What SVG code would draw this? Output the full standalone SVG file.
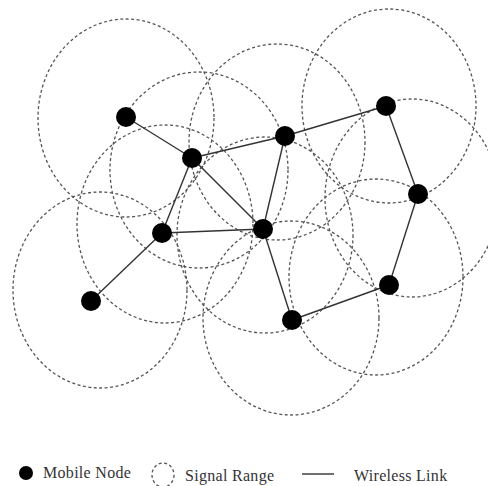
<svg xmlns="http://www.w3.org/2000/svg" width="488" height="486" viewBox="0 0 488 486">
<style>
.rng{fill:none;stroke:#555;stroke-width:1.3;stroke-dasharray:3 2.5}
.lnk{stroke:#333;stroke-width:1.4;fill:none}
.nd{fill:#000}
.lbl{font-family:"Liberation Serif","Times New Roman",serif;font-size:16px;letter-spacing:0.3px;fill:#333}
</style>
<rect width="488" height="486" fill="#fff"/>
<g id="ranges">
<ellipse class="rng" cx="126" cy="118" rx="88" ry="99"/>
<ellipse class="rng" cx="199" cy="170" rx="89" ry="98"/>
<ellipse class="rng" cx="277" cy="142" rx="88" ry="98"/>
<ellipse class="rng" cx="389" cy="106" rx="87" ry="97"/>
<ellipse class="rng" cx="412" cy="198" rx="87" ry="99"/>
<ellipse class="rng" cx="165" cy="224" rx="88" ry="99"/>
<ellipse class="rng" cx="265" cy="235" rx="88" ry="98"/>
<ellipse class="rng" cx="100" cy="290" rx="87" ry="98"/>
<ellipse class="rng" cx="376" cy="277" rx="87" ry="98"/>
<ellipse class="rng" cx="291" cy="318" rx="88" ry="97"/>
</g>
<g id="links">
<line class="lnk" x1="126" y1="117" x2="192" y2="158"/>
<line class="lnk" x1="192" y1="158" x2="285" y2="136"/>
<line class="lnk" x1="285" y1="136" x2="386" y2="106"/>
<line class="lnk" x1="386" y1="106" x2="418" y2="194"/>
<line class="lnk" x1="418" y1="194" x2="389" y2="285"/>
<line class="lnk" x1="389" y1="285" x2="292" y2="320"/>
<line class="lnk" x1="292" y1="320" x2="263" y2="229"/>
<line class="lnk" x1="263" y1="229" x2="285" y2="136"/>
<line class="lnk" x1="263" y1="229" x2="162" y2="233"/>
<line class="lnk" x1="192" y1="158" x2="263" y2="229"/>
<line class="lnk" x1="192" y1="158" x2="162" y2="233"/>
<line class="lnk" x1="162" y1="233" x2="91" y2="301"/>
</g>
<g id="n1"><circle class="nd" cx="126" cy="117" r="10"/></g>
<g id="n2"><circle class="nd" cx="192" cy="158" r="10"/></g>
<g id="n3"><circle class="nd" cx="285" cy="136" r="10"/></g>
<g id="n4"><circle class="nd" cx="386" cy="106" r="10"/></g>
<g id="n5"><circle class="nd" cx="418" cy="194" r="10"/></g>
<g id="n6"><circle class="nd" cx="162" cy="233" r="10"/></g>
<g id="n7"><circle class="nd" cx="263" cy="229" r="10"/></g>
<g id="n8"><circle class="nd" cx="91" cy="301" r="10"/></g>
<g id="n9"><circle class="nd" cx="389" cy="285" r="10"/></g>
<g id="n10"><circle class="nd" cx="292" cy="320" r="10"/></g>
<g id="legend">
<circle class="nd" cx="26" cy="473" r="7"/>
<text class="lbl" x="43" y="478">Mobile Node</text>
<ellipse class="rng" cx="163" cy="475" rx="11" ry="12" stroke-width="1.2"/>
<text class="lbl" x="185" y="481">Signal Range</text>
<line class="lnk" x1="302" y1="474" x2="334" y2="474"/>
<text class="lbl" x="354" y="481">Wireless Link</text>
</g>
</svg>
